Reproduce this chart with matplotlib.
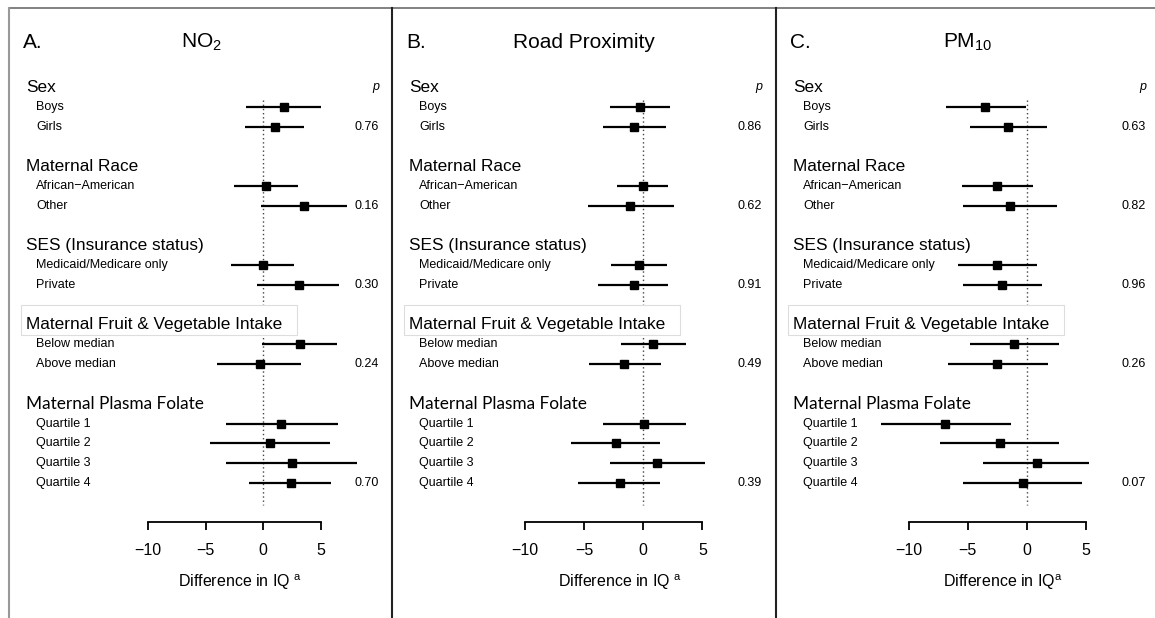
import matplotlib
matplotlib.use('Agg')
import matplotlib.pyplot as plt
from matplotlib.lines import Line2D
from matplotlib.patches import Rectangle

plt.rcParams['font.family'] = ['Liberation Sans', 'DejaVu Sans']
plt.rcParams['mathtext.fontset'] = 'custom'
plt.rcParams['mathtext.rm'] = 'Liberation Sans'
plt.rcParams['mathtext.it'] = 'Liberation Sans:italic'

groups = ['Sex', 'Maternal Race', 'SES (Insurance status)',
          'Maternal Fruit & Vegetable Intake', 'Maternal Plasma Folate']
levels = [['Boys', 'Girls'],
          ['African\u2212American', 'Other'],
          ['Medicaid/Medicare only', 'Private'],
          ['Below median', 'Above median'],
          ['Quartile 1', 'Quartile 2', 'Quartile 3', 'Quartile 4']]

panel_letters = ['A.', 'B.', 'C.']
panel_titles = ['NO$_2$', 'Road Proximity', 'PM$_{10}$']
xlab_texts = ['Difference in IQ $^{\\mathrm{a}}$', 'Difference in IQ $^{\\mathrm{a}}$',
              'Difference in IQ$^{\\mathrm{a}}$']

# estimate, lower CI, upper CI (rows in same order as levels)
no2_est = [1.8, 1.0, 0.3, 3.6, 0.0, 3.1, 3.2, -0.3, 1.6, 0.6, 2.5, 2.4]
no2_lo = [-1.5, -1.6, -2.5, -0.2, -2.8, -0.5, -0.1, -4.0, -3.2, -4.6, -3.2, -1.2]
no2_hi = [5.0, 3.6, 3.0, 7.3, 2.7, 6.6, 6.4, 3.3, 6.5, 5.8, 8.2, 5.9]

road_est = [-0.3, -0.8, 0.0, -1.1, -0.4, -0.8, 0.8, -1.6, 0.1, -2.3, 1.2, -2.0]
road_lo = [-2.8, -3.4, -2.2, -4.7, -2.7, -3.8, -1.9, -4.6, -3.4, -6.1, -2.8, -5.5]
road_hi = [2.3, 1.9, 2.1, 2.6, 2.0, 2.1, 3.6, 1.5, 3.6, 1.4, 5.2, 1.4]

pm_est = [-3.5, -1.6, -2.5, -1.4, -2.5, -2.1, -1.1, -2.5, -6.9, -2.3, 0.9, -0.3]
pm_lo = [-6.8, -4.8, -5.5, -5.4, -5.8, -5.4, -4.8, -6.7, -12.3, -7.3, -3.7, -5.4]
pm_hi = [-0.1, 1.7, 0.5, 2.6, 0.9, 1.3, 2.7, 1.8, -1.3, 2.7, 5.3, 4.7]

no2_p = ['0.76', '0.16', '0.30', '0.24', '0.70']
road_p = ['0.86', '0.62', '0.91', '0.49', '0.39']
pm_p = ['0.63', '0.82', '0.96', '0.26', '0.07']

panels = [(no2_est, no2_lo, no2_hi, no2_p),
          (road_est, road_lo, road_hi, road_p),
          (pm_est, pm_lo, pm_hi, pm_p)]

W, H = 1155, 618
fig = plt.figure(figsize=(W / 100, H / 100), dpi=100)

# panel geometry in pixels: left edge, right edge, x of zero, px per unit
panel_px = [(9, 392, 263.0, 11.5), (392, 776, 643.3, 11.82), (776, 1155, 1026.7, 11.82)]
row0_px, row_px = 87.0, 19.8

# row index of each group header / level line
header_rows = []
level_rows = []
r = 0
for g, lv in zip(groups, levels):
    header_rows.append(r)
    level_rows.append([r + 1 + i for i in range(len(lv))])
    r += len(lv) + 2


def fx(px):
    return px / W


def fy(py):
    return 1 - py / H


for k, (est, lo, hi, pv) in enumerate(panels):
    left, right, zero, scale = panel_px[k]
    ax = fig.add_axes([fx(left), 0, (right - left) / W, 1])
    ax.patch.set_visible(False)
    ax.set_xlim((left - zero) / scale, (right - zero) / scale)
    ax.set_ylim((H - row0_px) / row_px, -row0_px / row_px)

    rows = [rr for lr in level_rows for rr in lr]
    ax.vlines(0, 0.66, 21.1, colors='#444444', linestyles=(0, (1, 2)), lw=1.0)
    ax.hlines(rows, lo, hi, colors='black', lw=1.6)
    ax.plot(est, rows, 's', color='black', ms=5.5)

    for s in ['left', 'right', 'top']:
        ax.spines[s].set_visible(False)
    ax.spines['bottom'].set_position(('data', (522 - row0_px) / row_px))
    ax.spines['bottom'].set_bounds(-10, 5)
    ax.spines['bottom'].set_linewidth(1.3)
    ax.set_yticks([])
    ax.set_xticks([-10, -5, 0, 5])
    ax.set_xticklabels(['\u221210', '\u22125', '0', '5'])
    ax.tick_params(axis='x', direction='out', length=6, width=1.3, labelsize=11.5, pad=9)

    ax.text(-2.0, (582 - row0_px) / row_px, xlab_texts[k], ha='center', va='center', fontsize=11.5)

    # titles
    fig.text(fx(left + 14), fy(42), panel_letters[k], ha='left', va='center', fontsize=15)
    fig.text(fx(left + 192), fy(42), panel_titles[k], ha='center', va='center', fontsize=15)
    fig.text(fx(left + 370), fy(row0_px), 'p', ha='right', va='center', fontsize=9, style='italic')

    # box behind fruit & vegetable header
    fig.add_artist(Rectangle((fx(left + 12), fy(335)), 276 / W, 30 / H, transform=fig.transFigure,
                             facecolor='white', edgecolor='#dddddd', lw=0.8, zorder=1))

    for gi, g in enumerate(groups):
        yh = row0_px + header_rows[gi] * row_px
        if gi == 4:
            fig.text(fx(left + 17), fy(yh), g, ha='left', va='center', fontsize=12.4,
                     family=['Lato', 'DejaVu Sans'], zorder=3)
        else:
            fig.text(fx(left + 17), fy(yh), g, ha='left', va='center', fontsize=12.4, zorder=3)
        for li, lab in enumerate(levels[gi]):
            yl = row0_px + level_rows[gi][li] * row_px
            fig.text(fx(left + 27), fy(yl), lab, ha='left', va='center', fontsize=9)
        yp = row0_px + level_rows[gi][-1] * row_px
        fig.text(fx(left + 370), fy(yp), pv[gi], ha='right', va='center', fontsize=9)

# frame lines
fig.add_artist(Line2D([fx(9), 1], [fy(8), fy(8)], color='#777777', lw=1.3, zorder=4))
fig.add_artist(Line2D([fx(9), fx(9)], [fy(8), 0], color='#999999', lw=1.5, zorder=4))
fig.add_artist(Line2D([fx(392), fx(392)], [fy(8), 0], color='#222222', lw=1.5, zorder=4))
fig.add_artist(Line2D([fx(776), fx(776)], [fy(8), 0], color='#222222', lw=1.5, zorder=4))

fig.savefig('out.png', dpi=100)
